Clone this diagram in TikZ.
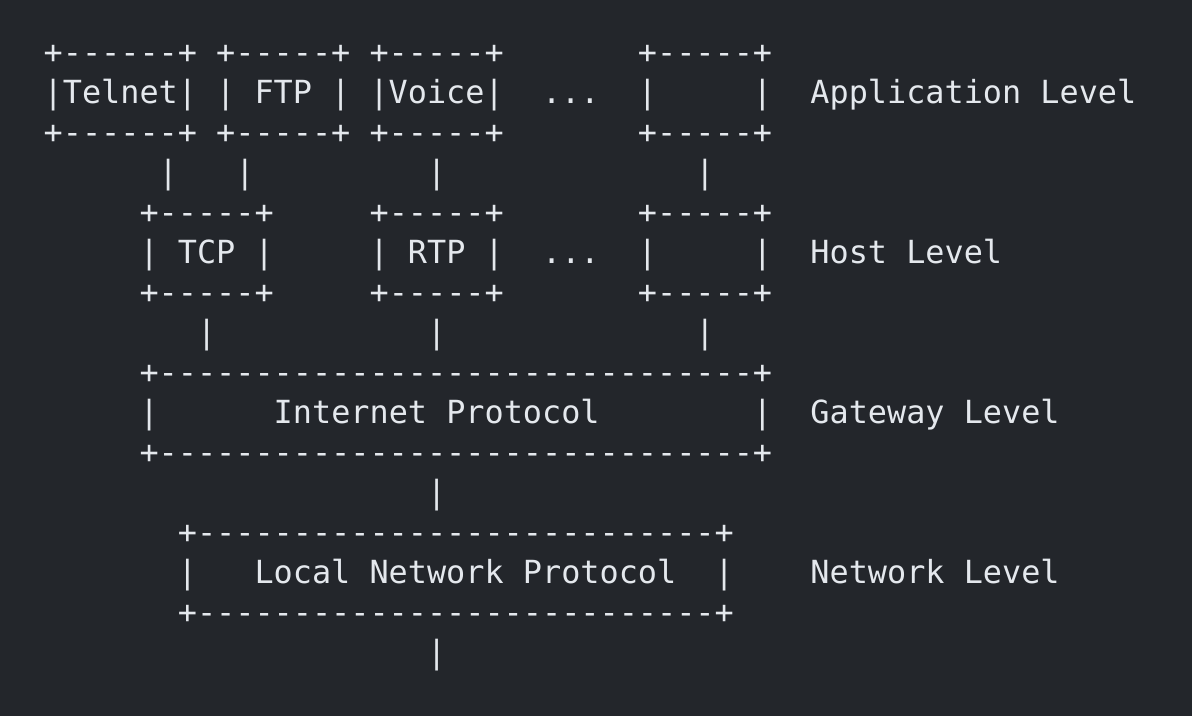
\documentclass[tikz,border=0pt]{standalone}
\usepackage{fontspec}
\setmonofont{DejaVu Sans Mono}
\usepackage{tikz}
\definecolor{PanelDark}{RGB}{35,38,43}
\definecolor{GlyphLight}{RGB}{228,232,237}

\begin{document}
\begin{tikzpicture}[
    x=9.584pt, y=-20pt,
    ascii/.style={anchor=base west,inner sep=0pt,outer sep=0pt,text=GlyphLight,
                  font=\ttfamily\fontsize{15.92}{20}\selectfont},
    layername/.style={ascii}
  ]
    \fill[PanelDark] (-21.86pt,31.65pt) rectangle (574.14pt,-326.35pt);
    % application level
    \node[ascii] (apptop)  at (0,0) {+------+~+-----+~+-----+~~~~~~~+-----+};
    \node[ascii] (appmid)  at (0,1) {|Telnet|~|~FTP~|~|Voice|~~...~~|~~~~~|};
    \node[ascii] (appbot)  at (0,2) {+------+~+-----+~+-----+~~~~~~~+-----+};
    \node[ascii] (applink) at (6,3) {|~~~|~~~~~~~~~|~~~~~~~~~~~~~|};
    % host level
    \node[ascii] (hosttop)  at (5,4) {+-----+~~~~~+-----+~~~~~~~+-----+};
    \node[ascii] (hostmid)  at (5,5) {|~TCP~|~~~~~|~RTP~|~~...~~|~~~~~|};
    \node[ascii] (hostbot)  at (5,6) {+-----+~~~~~+-----+~~~~~~~+-----+};
    \node[ascii] (hostlink) at (8,7) {|~~~~~~~~~~~|~~~~~~~~~~~~~|};
    % gateway level
    \node[ascii] (iptop)  at (5,8)   {+-------------------------------+};
    \node[ascii] (ipmid)  at (5,9)   {|~~~~~~Internet~Protocol~~~~~~~~|};
    \node[ascii] (ipbot)  at (5,10)  {+-------------------------------+};
    \node[ascii] (iplink) at (20,11) {|};
    % network level
    \node[ascii] (lantop)  at (7,12)  {+---------------------------+};
    \node[ascii] (lanmid)  at (7,13)  {|~~~Local~Network~Protocol~~|};
    \node[ascii] (lanbot)  at (7,14)  {+---------------------------+};
    \node[ascii] (lanlink) at (20,15) {|};
    % level names
    \node[layername] (applevel)  at (40,1)  {Application Level};
    \node[layername] (hostlevel) at (40,5)  {Host Level};
    \node[layername] (gwlevel)   at (40,9)  {Gateway Level};
    \node[layername] (netlevel)  at (40,13) {Network Level};
  \end{tikzpicture}
\end{document}
